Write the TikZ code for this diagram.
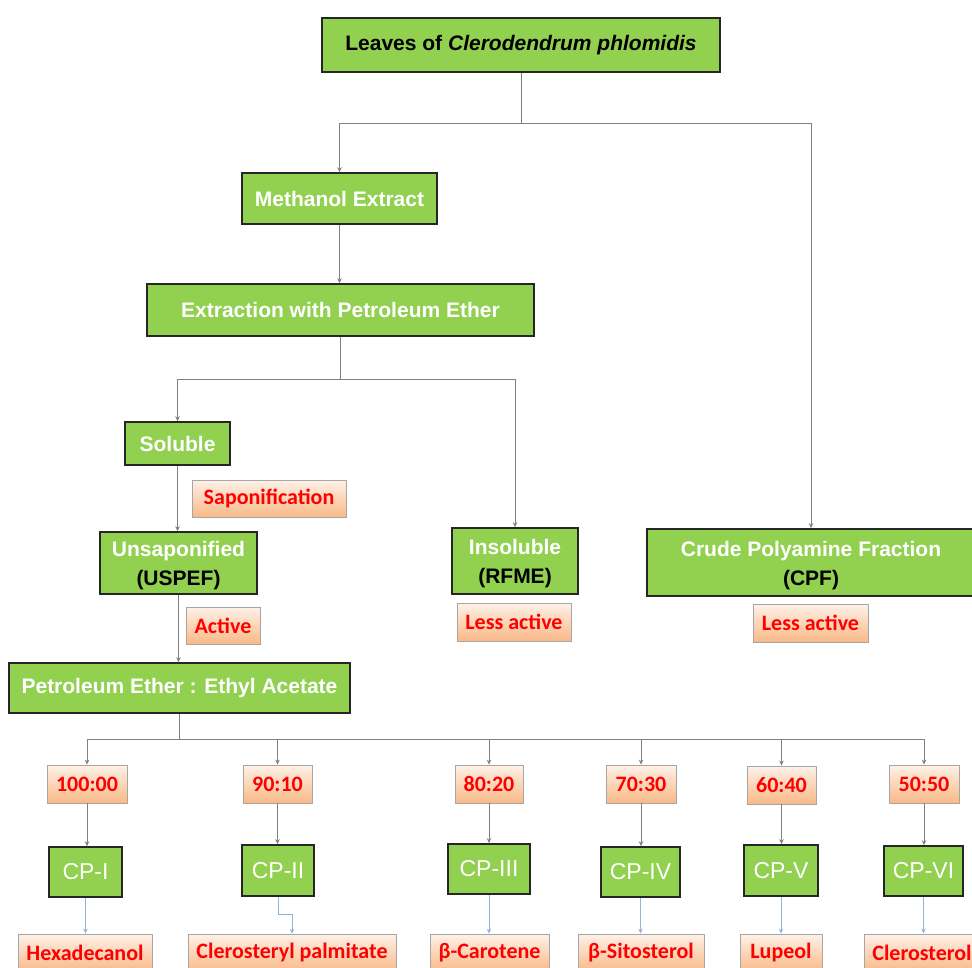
\documentclass[tikz,border=0pt]{standalone}
\usepackage{fontspec}
\setmainfont{Liberation Sans}
\newfontfamily\calib{Carlito}
\usetikzlibrary{arrows.meta,shadows}
\definecolor{gfill}{HTML}{92D050}
\definecolor{gborder}{HTML}{262626}
\definecolor{oborder}{HTML}{A6A6A6}
\definecolor{otop}{HTML}{FEF1E8}
\definecolor{obot}{HTML}{F9B987}
\definecolor{lgray}{HTML}{808080}
\definecolor{lblue}{HTML}{95B3D7}
\definecolor{redtxt}{HTML}{FF0000}
\tikzset{
  gbox/.style={draw=gborder, line width=1.6pt, fill=gfill, text=white,
    font=\fontsize{21}{29}\selectfont\bfseries, inner sep=0pt, align=center},
  cpbox/.style={gbox, font=\fontsize{23}{26}\selectfont},
  obox/.style={draw=oborder, line width=0.8pt, top color=otop, bottom color=obot,
    text=redtxt, font=\calib\fontsize{22}{26}\selectfont\bfseries, inner sep=0pt,
    drop shadow={shadow xshift=1.2pt, shadow yshift=-1.2pt, opacity=0.3, fill=gray}},
  conn/.style={draw=lgray, line width=0.9pt},
  arr/.style={conn, -{Stealth[length=5pt,width=4.5pt]}},
  barr/.style={draw=lblue, line width=0.9pt, -{Stealth[length=5pt,width=4.5pt]}},
}
\newcommand{\topstrut}{\rule{0pt}{21pt}}
\begin{document}
\begin{tikzpicture}[x=1pt,y=-1pt]
\clip (0,0) rectangle (972,968);
\fill[white] (0,0) rectangle (972,968);

% main green boxes
\node[gbox, text=black, minimum width=398pt, minimum height=54pt] (leaves) at (521,45) {Leaves of \textit{Clerodendrum phlomidis}};
\node[gbox, minimum width=195pt, minimum height=51pt] (meth) at (339.5,198.5) {Methanol Extract};
\node[gbox, minimum width=387pt, minimum height=52pt] (extr) at (340.5,310) {Extraction with Petroleum Ether};
\node[gbox, minimum width=105pt, minimum height=43pt] (sol) at (177.5,443.5) {Soluble};
\node[gbox, minimum width=157pt, minimum height=62pt] (unsap) at (178.5,563) {\topstrut Unsaponified\\{\color{black}(USPEF)}};
\node[gbox, minimum width=126pt, minimum height=66pt] (insol) at (515,561) {\topstrut Insoluble\\{\color{black}(RFME)}};
\node[gbox, minimum width=328pt, minimum height=67pt] (cpf) at (811,562.5) {\topstrut Crude Polyamine Fraction\\{\color{black}(CPF)}};
\node[gbox, minimum width=341pt, minimum height=50pt] (pe) at (179.5,688) {Petroleum Ether : Ethyl Acetate};

% orange labels
\node[obox, minimum width=154pt, minimum height=37pt] (sap) at (269,498.5) {Saponification};
\node[obox, minimum width=74pt, minimum height=37pt] (act) at (223,625.5) {Active};
\node[obox, minimum width=114pt, minimum height=38pt] (less1) at (514,622) {Less active};
\node[obox, minimum width=115pt, minimum height=38pt] (less2) at (810.5,623) {Less active};

% ratio boxes
\node[obox, minimum width=80pt, minimum height=38pt] (r1) at (87,784) {100:00};
\node[obox, minimum width=69pt, minimum height=38pt] (r2) at (277.5,784) {90:10};
\node[obox, minimum width=68pt, minimum height=38pt] (r3) at (489,784) {80:20};
\node[obox, minimum width=70pt, minimum height=38pt] (r4) at (641,784) {70:30};
\node[obox, minimum width=69pt, minimum height=38pt] (r5) at (781.5,785) {60:40};
\node[obox, minimum width=70pt, minimum height=38pt] (r6) at (924,784) {50:50};

% CP boxes
\node[cpbox, minimum width=73pt, minimum height=50pt] (c1) at (85.5,872) {CP-I};
\node[cpbox, minimum width=72pt, minimum height=51pt] (c2) at (278,870.5) {CP-II};
\node[cpbox, minimum width=82pt, minimum height=50pt] (c3) at (489,869) {CP-III};
\node[cpbox, minimum width=79pt, minimum height=50pt] (c4) at (640.5,872) {CP-IV};
\node[cpbox, minimum width=74pt, minimum height=51pt] (c5) at (781,870.5) {CP-V};
\node[cpbox, minimum width=79pt, minimum height=50pt] (c6) at (923.5,871) {CP-VI};

% compounds
\node[obox, minimum width=134pt, minimum height=38pt] (h1) at (85,953) {Hexadecanol};
\node[obox, minimum width=208pt, minimum height=38pt] (h2) at (292,953) {Clerosteryl palmitate};
\node[obox, minimum width=119pt, minimum height=38pt] (h3) at (489.5,953) {β-Carotene};
\node[obox, minimum width=126pt, minimum height=38pt] (h4) at (641,953) {β-Sitosterol};
\node[obox, minimum width=82pt, minimum height=38pt] (h5) at (781,953) {Lupeol};
\node[obox, minimum width=116pt, minimum height=38pt] (h6) at (922,953) {Clerosterol};

% connectors
\draw[conn] (leaves.south) -- ++(0,51) coordinate (j1);
\draw[arr] (j1) -| (meth.north);
\draw[arr] (j1) -| (cpf.north);
\draw[arr] (meth.south) -- (meth.south |- extr.north);
\draw[conn] (extr.south) -- ++(0,43) coordinate (j2);
\draw[arr] (j2) -| (sol.north);
\draw[arr] (j2) -| (insol.north);
\draw[arr] (sol.south) -- (sol.south |- unsap.north);
\draw[arr] (unsap.south) -- (unsap.south |- pe.north);
\draw[conn] (pe.south) -- ++(0,26) coordinate (j3);
\foreach \r in {r1,r2,r3,r4,r5,r6} {\draw[arr] (j3) -| (\r.north);}
\foreach \r/\c in {r1/c1,r2/c2,r3/c3,r4/c4,r5/c5,r6/c6} {\draw[arr] (\r.south) -- (\r.south |- \c.north);}
\draw[barr] (c1.south) -- (c1.south |- h1.north);
\draw[barr] (c2.south) -- ++(0,18) -| (h2.north);
\draw[barr] (c3.south) -- (c3.south |- h3.north);
\draw[barr] (c4.south) -- (c4.south |- h4.north);
\draw[barr] (c5.south) -- (c5.south |- h5.north);
\draw[barr] (c6.south) -- (c6.south |- h6.north);
\end{tikzpicture}
\end{document}
